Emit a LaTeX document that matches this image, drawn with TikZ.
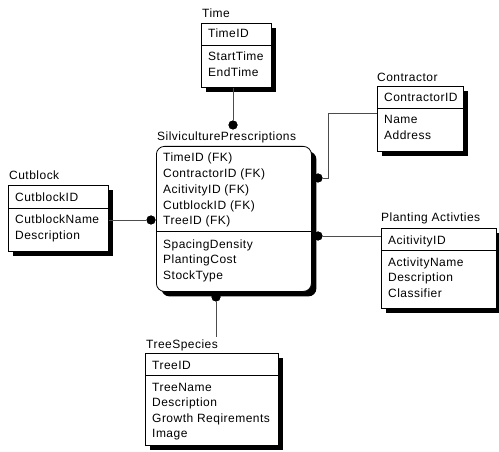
\documentclass[tikz,border=0pt]{standalone}
\usepackage{fontspec}
\setmainfont[LetterSpace=4]{Liberation Sans}
\usetikzlibrary{shadows}
\newcommand\entrows[5]{% x, first baseline, step, prefix, list
  \foreach \t [count=\i from 0] in {#5} {\node[txt] (#4-\i) at (#1,#2+#3*\i) {\t};}}
\begin{document}
\begin{tikzpicture}[x=1pt,y=-1pt,
  ent/.style={draw=black, fill=white, line width=0.8pt, inner sep=0pt, anchor=north west,
    drop shadow={opacity=1, fill=black, shadow xshift=5pt, shadow yshift=-5pt}},
  txt/.style={anchor=base west, inner sep=0pt, font=\fontsize{12}{14}\selectfont},
  divider/.style={draw=black, line width=0.8pt},
  conn/.style={draw=black!70, line width=0.8pt},
  dot/.style={circle, fill=black, inner sep=0pt, minimum size=9pt},
]
\useasboundingbox (0,0) rectangle (499,452);

% Time
\node[ent, minimum width=70pt, minimum height=64pt] (time) at (201,23) {};
\node[txt] (time-lbl) at (202,18) {Time};
\draw[divider] (time.west |- 0,45) -- (time.east |- 0,45);
\entrows{208}{38}{15.7}{time-k}{TimeID}
\entrows{208}{61}{15.7}{time-a}{StartTime,EndTime}

% Contractor
\node[ent, minimum width=86pt, minimum height=65pt] (con) at (377,86) {};
\node[txt] (con-lbl) at (377,82) {Contractor};
\draw[divider] (con.west |- 0,108) -- (con.east |- 0,108);
\entrows{384}{102}{15.5}{con-k}{ContractorID}
\entrows{384}{124}{15.5}{con-a}{Name,Address}

% Cutblock
\node[ent, minimum width=100pt, minimum height=66pt] (cut) at (8,185) {};
\node[txt] (cut-lbl) at (9,180) {Cutblock};
\draw[divider] (cut.west |- 0,208) -- (cut.east |- 0,208);
\entrows{15}{201}{15.5}{cut-k}{CutblockID}
\entrows{15}{224}{15.5}{cut-a}{CutblockName,Description}

% SilviculturePrescriptions
\node[ent, rounded corners=8pt, minimum width=155pt, minimum height=145pt] (sil) at (156,146) {};
\node[txt] (sil-lbl) at (157,141) {SilviculturePrescriptions};
\draw[divider] (sil.west |- 0,231) -- (sil.east |- 0,231);
\entrows{163}{162}{15.75}{sil-k}{TimeID (FK),ContractorID (FK),AcitivityID (FK),CutblockID (FK),TreeID (FK)}
\entrows{163}{248}{15.75}{sil-a}{SpacingDensity,PlantingCost,StockType}

% Planting Activties
\node[ent, minimum width=115pt, minimum height=80pt] (pla) at (381,228) {};
\node[txt] (pla-lbl) at (381,222) {Planting Activties};
\draw[divider] (pla.west |- 0,250) -- (pla.east |- 0,250);
\entrows{388}{244}{15.5}{pla-k}{AcitivityID}
\entrows{388}{266}{15.5}{pla-a}{ActivityName,Description,Classifier}

% TreeSpecies
\node[ent, minimum width=133pt, minimum height=92pt] (tree) at (145,353) {};
\node[txt] (tree-lbl) at (146,348) {TreeSpecies};
\draw[divider] (tree.west |- 0,375) -- (tree.east |- 0,375);
\entrows{152}{369}{15.5}{tree-k}{TreeID}
\entrows{152}{391}{15.5}{tree-a}{TreeName,Description,Growth Reqirements,Image}

% connectors
\node[dot] (d-time) at (233,125) {};
\draw[conn] (time.south -| d-time) -- (d-time);

\node[dot] (d-cut) at (151,220) {};
\draw[conn] (d-cut) -- (d-cut -| cut.east);

\node[dot] (d-con) at (318,178) {};
\coordinate (k-con) at (328,113);
\draw[conn] (k-con -| con.west) -- (k-con) |- (d-con);

\node[dot] (d-pla) at (318,236) {};
\draw[conn] (d-pla) -- (d-pla -| pla.west);

\node[dot] (d-tree) at (216,297) {};
\coordinate (t-end) at (216,337);
\draw[conn] (d-tree) -- (t-end);

% dots on top
\foreach \d in {d-time,d-cut,d-con,d-pla,d-tree} \fill (\d) circle (4.5pt);
\end{tikzpicture}
\end{document}
